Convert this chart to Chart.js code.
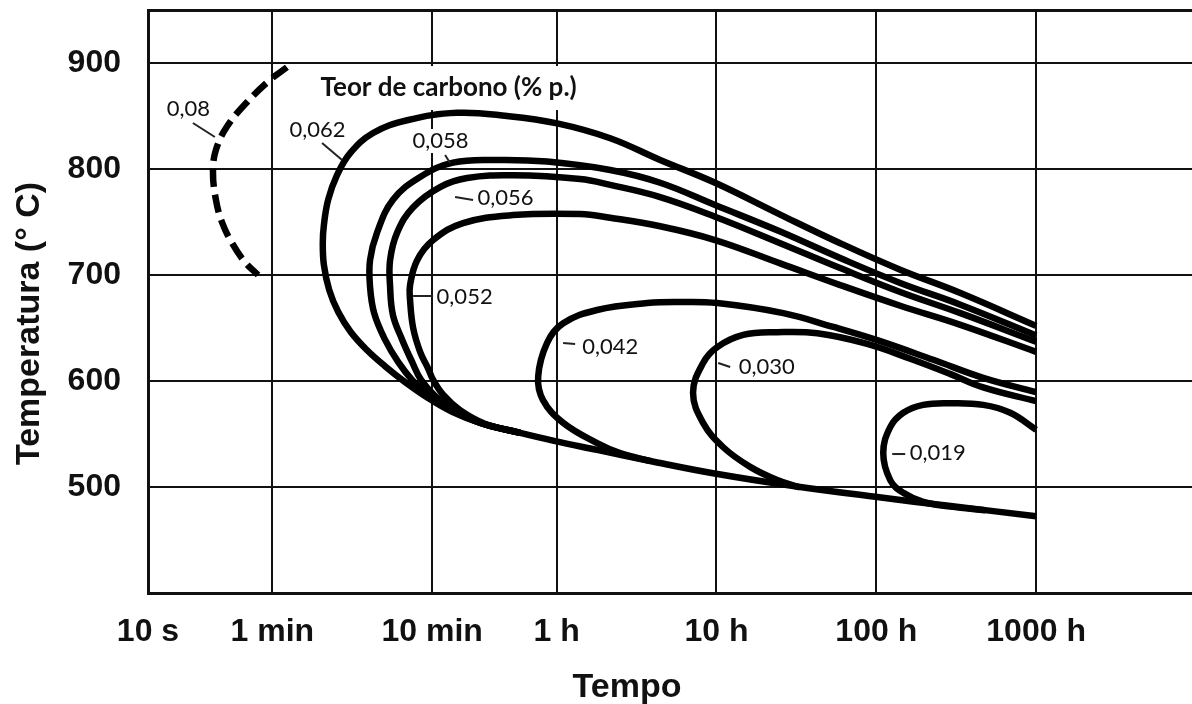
<!DOCTYPE html>
<html>
<head>
<meta charset="utf-8">
<script src="https://cdn.jsdelivr.net/npm/chart.js@4.4.1/dist/chart.umd.min.js"></script>
<style>
  html, body { margin: 0; padding: 0; background: #fff; }
  canvas { display: block; }
</style>
</head>
<body>
<canvas id="c" width="1192" height="704"></canvas>
<script>
// Time axis (seconds, log scale) and temperature axis (°C)
const timeTicks = [10, 60, 600, 3600, 36000, 360000, 3600000];
const timeTickLabels = ['10 s', '1 min', '10 min', '1 h', '10 h', '100 h', '1000 h'];
const tempTicks = [500, 600, 700, 800, 900];

// Sensitization C-curves: time (s) and temperature (°C) for each carbon content
const c008_t = [74, 58, 41.6, 31.2, 26.6, 25.5, 26.6, 29.0, 33.6, 40.5, 48.8];
const c008_T = [896, 884, 863, 840, 818, 797, 771, 750, 730, 712, 700];

const c062_t = [3.6e6, 1.21e6, 508000, 214000, 90200, 35300, 16000, 7790, 3630, 1760, 858, 418, 256, 184, 152, 134, 126, 124, 126, 136, 155, 186, 235, 304, 406, 565, 799, 1200, 2130, 3470, 6450, 13900, 34300, 109000, 365000, 1.05e6, 3.6e6];
const c062_T = [652, 683, 705, 730, 757, 787, 808.5, 829, 843, 850, 853, 846, 834, 815, 794, 771, 747, 730, 709.5, 686, 665, 646, 629, 614, 599, 584, 571, 560.5, 551, 543.5, 535, 524.5, 513, 501, 490.5, 482, 472.5];

const c058_t = [3.6e6, 1.21e6, 508000, 214000, 90200, 35300, 16000, 7790, 3140, 1530, 810, 504, 341, 271, 245, 245, 260, 304, 367, 449, 565, 776, 1200, 2130];
const c058_T = [643, 672, 692.5, 716, 741, 766, 787, 799, 807, 808.5, 806, 792.5, 771, 740, 714, 689, 664, 639, 618, 601, 587, 573.5, 560.5, 551];

const c056_t = [3.6e6, 1.21e6, 508000, 214000, 90200, 35300, 16000, 7790, 5050, 1920, 992, 672, 456, 362, 327, 327, 341, 389, 449, 511, 625, 834, 1200, 2130];
const c056_T = [637, 664, 684, 706.5, 730, 755, 773.5, 785, 790.5, 794, 791.5, 783, 764, 740, 714, 689, 662, 639, 618, 601, 586, 572, 560.5, 551];

const c052_t = [3.6e6, 1.21e6, 508000, 214000, 90200, 35300, 16000, 7790, 5050, 1920, 936, 608, 483, 436, 436, 456, 504, 565, 608, 702, 896, 1290, 2130];
const c052_T = [627.5, 653, 671, 690.5, 711, 733, 746, 754, 757.5, 756.5, 749, 733, 714, 690.5, 676.5, 650, 627.5, 612, 601, 587, 572.5, 559.5, 551];

const c042_t = [3.6e6, 1.68e6, 818000, 365000, 194000, 94200, 36400, 21400, 13300, 6450, 3960, 3140, 2760, 2960, 3960, 6450, 8990, 13900];
const c042_T = [589.5, 603, 620, 638.5, 651, 664, 673.5, 674.5, 673.5, 667, 654.5, 636, 604, 582, 560.5, 541.5, 532, 524.5];

const c030_t = [3.6e6, 1.68e6, 1.05e6, 587000, 316000, 154000, 86400, 52900, 36400, 29700, 25700, 29700, 39700, 58500, 86400, 120000];
const c030_T = [581, 594, 606.5, 621, 635, 645, 646, 643.5, 632, 617, 589, 560.5, 537.5, 519, 506.5, 499.5];

const c019_t = [3.6e6, 2.48e6, 1.68e6, 1.05e6, 708000, 531000, 440000, 398000, 440000, 531000, 708000, 1.05e6, 1.73e6];
const c019_T = [554, 570, 577.5, 579, 577.5, 570, 556.5, 532, 506.5, 494.5, 486, 481.5, 478];

// Curve labels (carbon content, wt.%) anchored in data units
const labelText = ['0,08', '0,062', '0,058', '0,056', '0,052', '0,042', '0,030', '0,019'];
const labelAt_t = [17.9, 115, 677, 1727, 957, 7785, 74250, 872400];
const labelAt_T = [856.6, 836.8, 826.4, 772.6, 679.2, 632.1, 613.2, 532.1];
// Leader lines from each label to its curve
const leaderFrom_t = [19.1, 122.7, 722, 1081, 607.6, 4700, 43870, 546300];
const leaderFrom_T = [843.4, 824.5, 813.2, 770.8, 680.2, 634.9, 613.2, 531.1];
const leaderTo_t = [26.2, 163.7, 776, 834, 455.5, 3955, 36910, 452900];
const leaderTo_T = [830.2, 808.5, 805.7, 773.6, 680.2, 635.8, 617.0, 531.1];

const legendTitle = 'Teor de carbono (% p.)';
const legendAt = { t: 760, T: 876.4 };
const xTitle = 'Tempo';
const yTitle = 'Temperatura (° C)';

const INK = '#111';
const tickFont = { family: '"Liberation Sans", Arial, sans-serif', size: 32, weight: 'bold' };

const pts = (ts, Ts) => ts.map((t, i) => ({ x: t, y: Ts[i] }));
const curve = (label, ts, Ts, dash) => ({
  label,
  data: pts(ts, Ts),
  showLine: true,
  borderColor: '#000',
  borderWidth: 6.5,
  pointRadius: 0,
  pointHoverRadius: 0,
  tension: 0.4,
  fill: false,
  borderCapStyle: 'butt',
  borderJoinStyle: 'round',
  borderDash: dash || []
});

const labelFont = '22px Lato, "Open Sans", sans-serif';
const legendFont = 'bold 26px Lato, "Open Sans", sans-serif';

// White boxes behind the text so the grid does not run through it
const labelBoxes = {
  id: 'labelBoxes',
  beforeDatasetsDraw(chart) {
    const { ctx, scales: { x, y } } = chart;
    ctx.save();
    ctx.fillStyle = '#fff';
    ctx.font = labelFont;
    labelText.forEach((txt, i) => {
      const w = ctx.measureText(txt).width + 6;
      const h = 24;
      const px = x.getPixelForValue(labelAt_t[i]);
      const py = y.getPixelForValue(labelAt_T[i]);
      ctx.fillRect(px - w / 2, py - h / 2, w, h);
    });
    ctx.font = legendFont;
    const w = ctx.measureText(legendTitle).width + 10;
    const px = x.getPixelForValue(legendAt.t);
    const py = y.getPixelForValue(legendAt.T);
    ctx.fillRect(px - w / 2, py - 22, w, 44);
    ctx.restore();
  }
};

const annotations = {
  id: 'annotations',
  afterDatasetsDraw(chart) {
    const { ctx, scales: { x, y }, chartArea } = chart;
    ctx.save();
    ctx.strokeStyle = '#222';
    ctx.lineWidth = 2;
    labelText.forEach((_, i) => {
      ctx.beginPath();
      ctx.moveTo(x.getPixelForValue(leaderFrom_t[i]), y.getPixelForValue(leaderFrom_T[i]));
      ctx.lineTo(x.getPixelForValue(leaderTo_t[i]), y.getPixelForValue(leaderTo_T[i]));
      ctx.stroke();
    });
    ctx.fillStyle = INK;
    ctx.textAlign = 'center';
    ctx.textBaseline = 'middle';
    ctx.font = labelFont;
    labelText.forEach((txt, i) => {
      ctx.fillText(txt, x.getPixelForValue(labelAt_t[i]), y.getPixelForValue(labelAt_T[i]));
    });
    ctx.font = legendFont;
    ctx.fillText(legendTitle, x.getPixelForValue(legendAt.t), y.getPixelForValue(legendAt.T));

    // Axis titles
    ctx.font = 'bold 34px "Liberation Sans", Arial, sans-serif';
    ctx.textBaseline = 'alphabetic';
    const cx = (chartArea.left + chartArea.right) / 2;
    const cy = (chartArea.top + chartArea.bottom) / 2;
    ctx.fillText(xTitle, cx - 43, chartArea.bottom + 104);
    ctx.translate(chartArea.left - 109, cy + 22);
    ctx.rotate(-Math.PI / 2);
    ctx.fillText(yTitle, 0, 0);
    ctx.restore();
  }
};

new Chart(document.getElementById('c'), {
  type: 'scatter',
  data: {
    datasets: [
      curve('0,08', c008_t, c008_T, [18, 8]),
      curve('0,062', c062_t, c062_T),
      curve('0,058', c058_t, c058_T),
      curve('0,056', c056_t, c056_T),
      curve('0,052', c052_t, c052_T),
      curve('0,042', c042_t, c042_T),
      curve('0,030', c030_t, c030_T),
      curve('0,019', c019_t, c019_T)
    ]
  },
  options: {
    responsive: false,
    animation: false,
    events: [],
    layout: { padding: { top: 10, left: 0, right: 0, bottom: 0 } },
    plugins: {
      legend: { display: false },
      tooltip: { enabled: false }
    },
    scales: {
      x: {
        type: 'logarithmic',
        min: 10,
        max: 3.4e7,
        afterBuildTicks: s => { s.ticks = timeTicks.map(v => ({ value: v })); },
        afterFit: s => { s.height = 111; s.paddingLeft = 0; s.paddingRight = 0; },
        grid: { color: INK, lineWidth: 2, drawTicks: false },
        border: { display: true, color: INK, width: 3 },
        ticks: {
          autoSkip: false,
          maxRotation: 0,
          minRotation: 0,
          padding: 20,
          color: INK,
          font: tickFont,
          callback: (v, i) => timeTickLabels[i]
        }
      },
      y: {
        type: 'linear',
        min: 400,
        max: 950,
        afterBuildTicks: s => { s.ticks = [...tempTicks, 950].map(v => ({ value: v })); },
        afterFit: s => { s.width = 148; s.paddingTop = 0; s.paddingBottom = 0; },
        grid: {
          color: INK,
          lineWidth: c => (c.tick && c.tick.value === 950 ? 3 : 2),
          drawTicks: false
        },
        border: { display: true, color: INK, width: 3 },
        ticks: {
          padding: 27,
          color: INK,
          font: tickFont,
          callback: v => (tempTicks.includes(v) ? String(v) : '')
        }
      }
    }
  },
  plugins: [labelBoxes, annotations]
});
</script>
</body>
</html>
